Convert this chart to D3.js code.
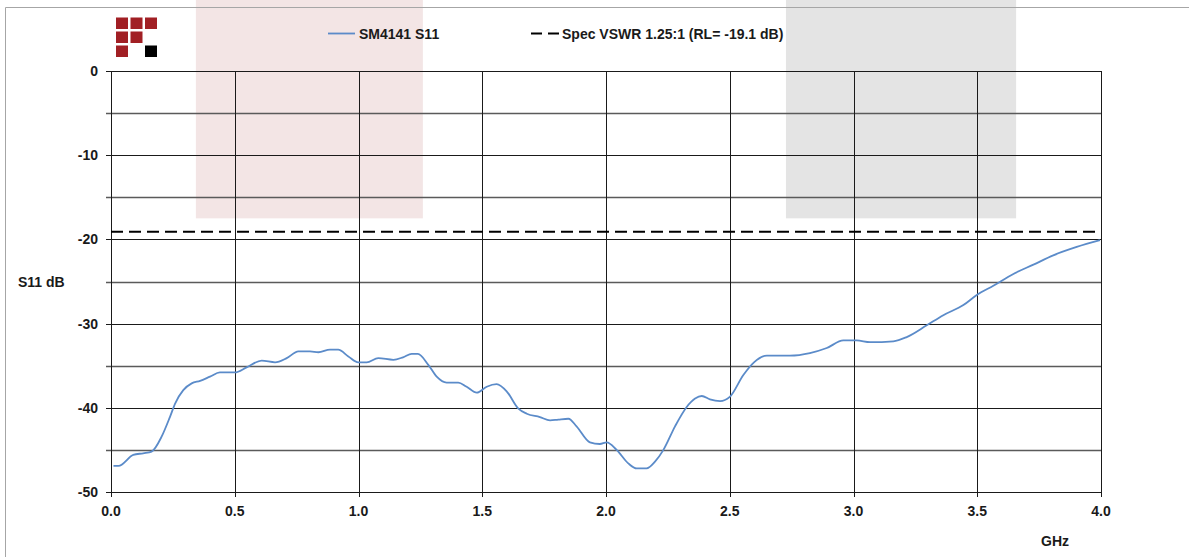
<!doctype html>
<html>
<head>
<title>SM4141 S11</title>
<style type="text/css">
body { margin: 0; background: #fff; }
svg { display: block; font-family: "Liberation Sans", Arial, sans-serif; }
</style>
<script src="https://cdnjs.cloudflare.com/ajax/libs/d3/7.8.5/d3.min.js"></script>
</head>
<body>
<script type="text/javascript">
var width = 1198, height = 557;

// S11 trace (GHz, dB)
var freq = [0.01, 0.03, 0.09, 0.13, 0.164, 0.205, 0.238, 0.259, 0.292, 0.326, 0.36, 0.40, 0.44, 0.50,
	0.548, 0.609, 0.663, 0.71, 0.757, 0.804, 0.838, 0.885, 0.918, 0.959, 0.999, 1.033, 1.08, 1.141,
	1.18, 1.215, 1.24, 1.282, 1.316, 1.356, 1.403, 1.437, 1.478, 1.518, 1.558, 1.60, 1.646, 1.68,
	1.733, 1.774, 1.807, 1.848, 1.881, 1.935, 1.975, 2.003, 2.043, 2.09, 2.124, 2.164, 2.198, 2.232,
	2.279, 2.326, 2.36, 2.387, 2.42, 2.461, 2.50, 2.555, 2.598, 2.65, 2.743, 2.824, 2.892, 2.959,
	3.013, 3.067, 3.161, 3.215, 3.296, 3.363, 3.444, 3.498, 3.565, 3.646, 3.727, 3.807, 3.902, 3.996];
var s11 = [-46.9, -46.9, -45.6, -45.4, -45.2, -43.4, -41.1, -39.5, -37.9, -37.1, -36.8, -36.3, -35.8, -35.8,
	-35.2, -34.4, -34.6, -34.1, -33.3, -33.3, -33.4, -33.1, -33.1, -33.9, -34.6, -34.6, -34.1, -34.3,
	-34.0, -33.6, -33.6, -34.9, -36.3, -37.0, -37.0, -37.5, -38.2, -37.5, -37.2, -38.1, -40.1, -40.7,
	-41.1, -41.5, -41.4, -41.3, -42.2, -44.1, -44.3, -44.1, -45.0, -46.6, -47.2, -47.2, -46.4, -45.0,
	-42.2, -39.9, -38.9, -38.6, -39.0, -39.2, -38.7, -36.1, -34.6, -33.8, -33.8, -33.5, -32.9, -32.0,
	-32.0, -32.2, -32.1, -31.6, -30.2, -29.0, -27.8, -26.6, -25.5, -24.1, -23.0, -21.9, -20.9, -20.1];

var specLevel = -19.1;
var bands = [[0.343, 1.26], [2.727, 3.657]];
var bandColors = ["#f3e5e5", "#e4e4e4"];
var bandTop = -17.5;

var xTicks = [0, 0.5, 1, 1.5, 2, 2.5, 3, 3.5, 4];
var yTicks = [0, -10, -20, -30, -40, -50];
var yGrid = [0, -5, -10, -15, -20, -25, -30, -35, -40, -45, -50];

var legendLabels = ["SM4141 S11", "Spec VSWR 1.25:1 (RL= -19.1 dB)"];

var svg = d3.select("body").append("svg")
	.attr("width", width)
	.attr("height", height);

var x = d3.scaleLinear().domain([0, 4]).range([111, 1101]);
var y = d3.scaleLinear().domain([0, -50]).range([71, 492]);

// shaded bands
svg.selectAll(".band")
	.data(bands)
	.enter().append("rect")
	.attr("x", function(d) { return x(d[0]); })
	.attr("y", 0)
	.attr("width", function(d) { return x(d[1]) - x(d[0]); })
	.attr("height", y(bandTop))
	.style("fill", function(d, i) { return bandColors[i]; });

// outer frame (top + left)
svg.append("path")
	.attr("d", "M5.5,557 V7.5 H1189")
	.style("fill", "none")
	.style("stroke", "#a6a6a6")
	.style("stroke-width", 1);

// logo
var logo = [[0, 0, 1], [1, 0, 1], [2, 0, 1], [0, 1, 1], [1, 1, 1], [0, 2, 1], [2, 2, 0]];
svg.selectAll(".logo")
	.data(logo)
	.enter().append("rect")
	.attr("x", function(d) { return 116 + d[0] * 14.5; })
	.attr("y", function(d) { return 17.5 + d[1] * 14; })
	.attr("width", 12)
	.attr("height", 11.5)
	.style("fill", function(d) { return d[2] ? "#a11f24" : "#000"; });

// gridlines
svg.selectAll(".hgrid")
	.data(yGrid)
	.enter().append("line")
	.attr("x1", 106).attr("x2", x(4))
	.attr("y1", function(d) { return Math.round(y(d)) + 0.5; })
	.attr("y2", function(d) { return Math.round(y(d)) + 0.5; })
	.style("stroke", function(d) { return d % 10 === 0 ? "#1a1a1a" : "#5a5a5a"; })
	.style("stroke-width", function(d) { return d % 10 === 0 ? 1 : 1.4; });

svg.selectAll(".vgrid")
	.data(xTicks)
	.enter().append("line")
	.attr("x1", function(d) { return Math.round(x(d)) + 0.5; })
	.attr("x2", function(d) { return Math.round(x(d)) + 0.5; })
	.attr("y1", y(0))
	.attr("y2", 497)
	.style("stroke", "#1a1a1a")
	.style("stroke-width", 1);

// tick labels
svg.selectAll(".ylab")
	.data(yTicks)
	.enter().append("text")
	.attr("x", 98)
	.attr("y", function(d) { return y(d) + 5; })
	.attr("text-anchor", "end")
	.style("font-size", "14px")
	.style("font-weight", "bold")
	.style("fill", "#1a1a1a")
	.text(function(d) { return d; });

svg.selectAll(".xlab")
	.data(xTicks)
	.enter().append("text")
	.attr("x", function(d) { return x(d); })
	.attr("y", 516)
	.attr("text-anchor", "middle")
	.style("font-size", "14px")
	.style("font-weight", "bold")
	.style("fill", "#1a1a1a")
	.text(function(d) { return d3.format(".1f")(d); });

svg.append("text")
	.attr("x", 18).attr("y", 287)
	.style("font-size", "14px").style("font-weight", "bold").style("fill", "#1a1a1a")
	.text("S11 dB");

svg.append("text")
	.attr("x", 1055).attr("y", 546)
	.attr("text-anchor", "middle")
	.style("font-size", "14px").style("font-weight", "bold").style("fill", "#1a1a1a")
	.text("GHz");

// spec line
svg.append("line")
	.attr("x1", x(0)).attr("x2", x(4))
	.attr("y1", y(specLevel)).attr("y2", y(specLevel))
	.style("stroke", "#000")
	.style("stroke-width", 2)
	.style("stroke-dasharray", "12,6");

// S11 trace
var line = d3.line()
	.x(function(d, i) { return x(freq[i]); })
	.y(function(d) { return y(d); })
	.curve(d3.curveMonotoneX);

svg.append("path")
	.datum(s11)
	.attr("d", line)
	.style("fill", "none")
	.style("stroke", "#5b8bc9")
	.style("stroke-width", 1.8);

// legend
svg.append("line")
	.attr("x1", 328).attr("x2", 355).attr("y1", 33.5).attr("y2", 33.5)
	.style("stroke", "#5b8bc9").style("stroke-width", 1.8);
svg.append("line")
	.attr("x1", 531).attr("x2", 559).attr("y1", 33.5).attr("y2", 33.5)
	.style("stroke", "#000").style("stroke-width", 2)
	.style("stroke-dasharray", "11,6");

svg.selectAll(".leg")
	.data(legendLabels)
	.enter().append("text")
	.attr("x", function(d, i) { return i === 0 ? 359 : 562; })
	.attr("y", 38.5)
	.style("font-size", "14px")
	.style("font-weight", "bold")
	.style("fill", "#1a1a1a")
	.text(function(d) { return d; });
</script>
</body>
</html>
